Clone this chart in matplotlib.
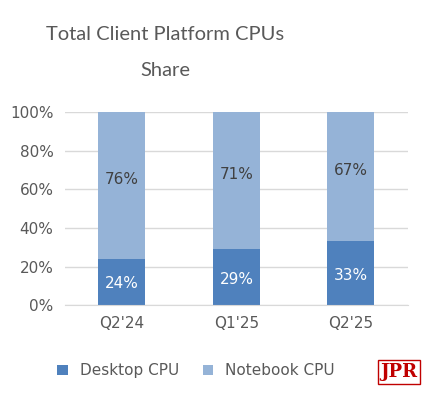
import matplotlib.pyplot as plt

quarters = ["Q2'24", "Q1'25", "Q2'25"]
desktop = [24, 29, 33]
notebook = [76, 71, 67]

fig = plt.figure(figsize=(4.46, 4.0), dpi=100)
ax = fig.add_axes([0.145, 0.237, 0.77, 0.483])

c_desk = '#4F81BD'
c_note = '#95B3D7'
x = range(len(quarters))
ax.bar(x, desktop, width=0.41, color=c_desk, label='Desktop CPU')
ax.bar(x, notebook, width=0.41, bottom=desktop, color=c_note, label='Notebook CPU')

for i in x:
    ax.text(i, desktop[i] / 2 - 1, f'{desktop[i]}%', ha='center', va='center',
            color='white', fontsize=11)
    ax.text(i, desktop[i] + notebook[i] / 2 + 3, f'{notebook[i]}%', ha='center',
            va='center', color='#404040', fontsize=11)

ax.set_xlim(-0.5, 2.5)
ax.set_ylim(0, 100)
ax.set_yticks(range(0, 101, 20))
ax.set_yticklabels([f'{v}%' for v in range(0, 101, 20)])
ax.set_xticks(list(x))
ax.set_xticklabels(quarters)
ax.tick_params(length=0, labelsize=11, labelcolor='#595959', pad=8)
ax.grid(axis='y', color='#D9D9D9', linewidth=1)
ax.set_axisbelow(True)
for s in ['top', 'right', 'left']:
    ax.spines[s].set_visible(False)
ax.spines['bottom'].set_color('#D9D9D9')

fig.text(0.37, 0.913, 'Total Client Platform CPUs', ha='center', va='center',
         fontsize=14.5, color='#595959', family='Lato')
fig.text(0.37, 0.825, 'Share', ha='center', va='center',
         fontsize=14.5, color='#595959', family='Lato')

fig.legend(loc='lower center', bbox_to_anchor=(0.44, 0.02), ncol=2, frameon=False,
           fontsize=11, handlelength=0.7, handleheight=0.7, columnspacing=1.5,
           labelcolor='#595959')

fig.text(0.895, 0.07, 'JPR', ha='center', va='center', fontsize=13, color='#C00000',
         family='DejaVu Serif', fontweight='bold',
         bbox=dict(facecolor='white', edgecolor='#C00000', boxstyle='square,pad=0.15'))

fig.savefig('out.png', dpi=100)
